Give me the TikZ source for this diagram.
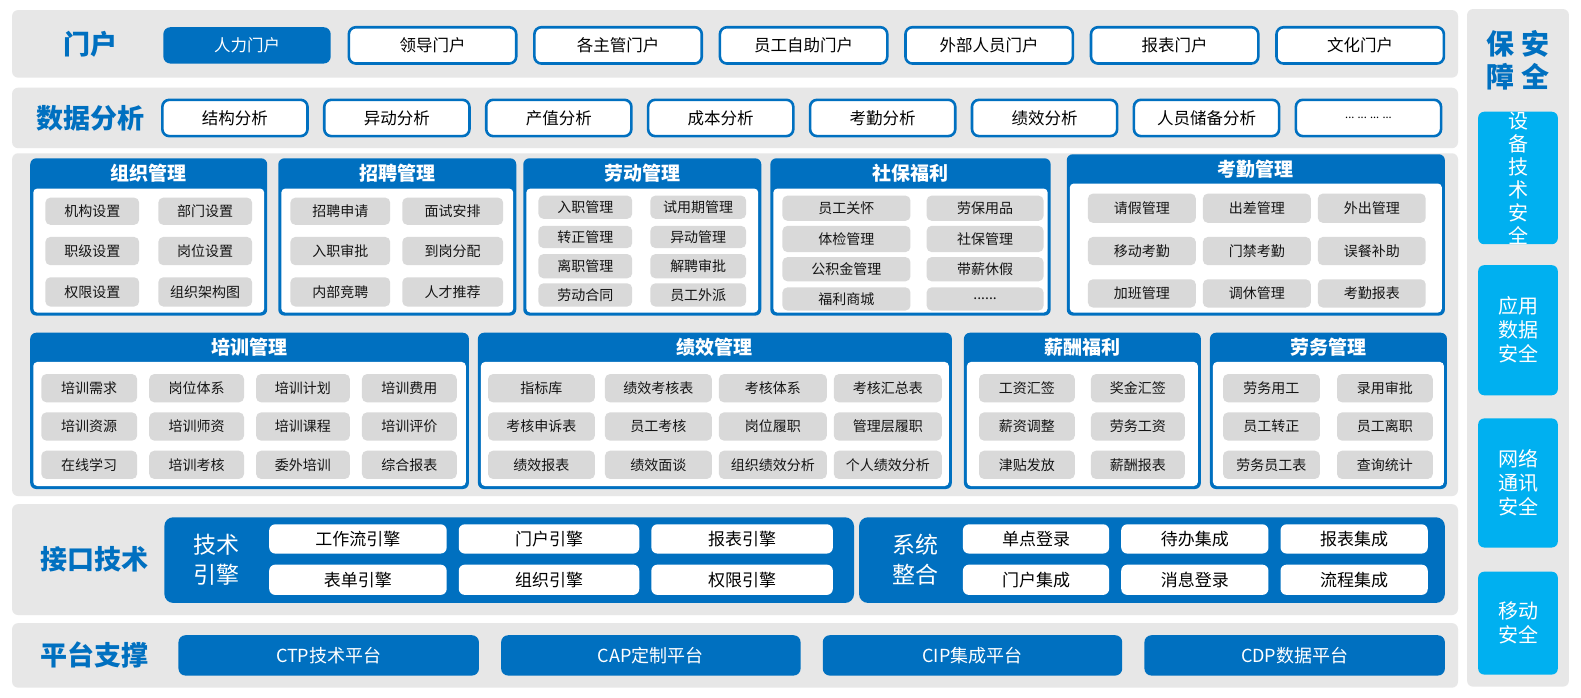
\documentclass[tikz,border=0pt]{standalone}
\usepackage{fontspec}
\setmainfont{Noto Sans CJK SC}
\definecolor{mblue}{RGB}{0,112,192}
\definecolor{pgray}{RGB}{231,231,231}
\definecolor{igray}{RGB}{217,217,217}
\definecolor{mcyan}{RGB}{0,176,240}
\definecolor{itxt}{RGB}{20,20,20}
\newcommand{\mydots}{......}
\newcommand{\bx}[7]{%
  \node[#1, minimum width={((#5)-(#3))*1.0083}, minimum height={((#6)-(#4))*1.0083}, inner sep=0pt, outer sep=0pt]
    (#2) at ({((#3)+(#5))/2},{((#4)+(#6))/2}) {#7};}
\newcommand{\modbox}[7]{%
  \bx{modout}{#1}{#2}{#3}{#4}{#5}{}
  \bx{modin}{#1-b}{#2+3}{#6}{#4-3}{#5-3}{}
  \bx{modhd}{#1-h}{#2}{#3}{#4}{#6}{#7}}
\newcommand{\itemgrid}[7]{%
  \foreach \t [count=\k from 0] in {#7} {
    \pgfmathtruncatemacro\cc{mod(\k,#2)}
    \pgfmathtruncatemacro\rr{div(\k,#2)}
    \pgfmathsetmacro\xa{{#3}[\cc]}
    \pgfmathsetmacro\xb{{#4}[\cc]}
    \pgfmathsetmacro\ya{{#5}[\rr]}
    \pgfmathsetmacro\yb{{#6}[\rr]}
    \bx{itembox}{#1-\k}{\xa}{\ya}{\xb}{\yb}{\t}
  }}
\tikzset{
  panel/.style={fill=pgray, rounded corners=6pt},
  rowlbl/.style={text=mblue, font=\fontsize{27}{30}\selectfont\bfseries},
  portal/.style={draw=mblue, line width=2.6pt, fill=white, rounded corners=7pt, text=black, font=\fontsize{16.5}{18}\selectfont},
  portalsel/.style={fill=mblue, rounded corners=7pt, text=white, font=\fontsize{16.5}{18}\selectfont},
  ana/.style={draw=mblue, line width=2.6pt, fill=white, rounded corners=7pt, text=black, font=\fontsize{16.5}{18}\selectfont},
  modout/.style={fill=mblue, rounded corners=6pt},
  modin/.style={fill=white, rounded corners=4pt},
  modhd/.style={text=white, font=\fontsize{19}{21}\selectfont\bfseries},
  itembox/.style={fill=igray, rounded corners=5pt, text=itxt, font=\fontsize{14}{16}\selectfont},
  grp/.style={fill=mblue, rounded corners=9pt},
  grplbl/.style={text=white, align=center, font=\fontsize{23}{30}\selectfont},
  eng/.style={fill=white, rounded corners=6pt, text=black, font=\fontsize{17}{19}\selectfont},
  plat/.style={fill=mblue, rounded corners=7pt, text=white, font=\fontsize{18}{20}\selectfont},
  sec/.style={fill=mcyan, rounded corners=6pt, text=white, align=center, font=\fontsize{20}{24}\selectfont},
}
\begin{document}
\begin{tikzpicture}[x=1.0083pt,y=-1.0083pt]
\useasboundingbox (0,0) rectangle (1568,692.25);
\fill[white] (0,0) rectangle (1568,692.25);
% ---- grey panels
\bx{panel}{p1}{12}{10}{1446}{77}{}
\bx{panel}{p2}{12}{87}{1446}{147}{}
\bx{panel}{p3}{12}{152}{1446}{492}{}
\bx{panel}{p4}{12}{500}{1446}{610}{}
\bx{panel}{p5}{12}{618}{1446}{682}{}
\bx{panel}{p6}{1455}{9}{1556}{681}{}
% ---- row labels
\node[rowlbl] (l1) at (90,44) {门户};
\node[rowlbl] (l2) at (90,117) {数据分析};
\node[rowlbl] (l4) at (94,555) {接口技术};
\node[rowlbl] (l5) at (94,650) {平台支撑};
% ---- portal row
\bx{portalsel}{q0}{162}{27}{328}{63}{人力门户}
\foreach \t [count=\i from 1] in {领导门户,各主管门户,员工自助门户,外部人员门户,报表门户,文化门户}{
  \pgfmathsetmacro\xa{162+184*\i}
  \bx{portal}{q\i}{\xa}{27}{\xa+166}{63}{\t}
}
% ---- analysis row
\foreach \t [count=\i from 0] in {结构分析,异动分析,产值分析,成本分析,考勤分析,绩效分析,人员储备分析}{
  \pgfmathsetmacro\xa{161+160.6*\i}
  \bx{ana}{a\i}{\xa}{99}{\xa+144}{135}{\t}
}
\bx{ana}{a7}{1285.2}{99}{1429.2}{135}{\fontsize{11}{12}\selectfont ... ... ... ...}
% ---- top modules
\modbox{m1}{30}{157}{265}{313}{187}{组织管理}
\itemgrid{m1i}{2}{45,157}{138,250}{196,235,275}{223,263,304}{机构设置,部门设置,职级设置,岗位设置,权限设置,组织架构图}
\modbox{m2}{276}{157}{512}{313}{187}{招聘管理}
\itemgrid{m2i}{2}{288,399}{387,499}{196,235,275}{223,263,304}{招聘申请,面试安排,入职审批,到岗分配,内部竞聘,人才推荐}
\modbox{m3}{519}{157}{755}{313}{187}{劳动管理}
\itemgrid{m3i}{2}{534,645}{627,740}{194,224,252,281}{217,246,276,304}{入职管理,试用期管理,转正管理,异动管理,离职管理,解聘审批,劳动合同,员工外派}
\modbox{m4}{764}{157}{1042}{313}{187}{社保福利}
\itemgrid{m4i}{2}{776,919}{903,1035}{194,224,255,285}{219,250,279,308}{员工关怀,劳保用品,体检管理,社保管理,公积金管理,带薪休假,福利商城,\mydots}
\modbox{m5}{1058}{153}{1433}{313}{182}{考勤管理}
\itemgrid{m5i}{3}{1079,1193,1307}{1186,1300,1414}{192,235,277}{221,263,305}{请假管理,出差管理,外出管理,移动考勤,门禁考勤,误餐补助,加班管理,调休管理,考勤报表}
% ---- bottom modules
\modbox{b1}{30}{330}{465}{485}{359}{培训管理}
\itemgrid{b1i}{4}{41,148,254,359}{136,242,347,453}{371,409,447}{399,437,475}{培训需求,岗位体系,培训计划,培训费用,培训资源,培训师资,培训课程,培训评价,在线学习,培训考核,委外培训,综合报表}
\modbox{b2}{474}{330}{944}{485}{359}{绩效管理}
\itemgrid{b2i}{4}{484,600,713,827}{590,706,820,934}{371,409,447}{399,437,475}{指标库,绩效考核表,考核体系,考核汇总表,考核申诉表,员工考核,岗位履职,管理层履职,绩效报表,绩效面谈,组织绩效分析,个人绩效分析}
\modbox{b3}{956}{330}{1191}{485}{359}{薪酬福利}
\itemgrid{b3i}{2}{971,1082}{1066,1175}{371,409,447}{399,437,475}{工资汇签,奖金汇签,薪资调整,劳务工资,津贴发放,薪酬报表}
\modbox{b4}{1200}{330}{1435}{485}{359}{劳务管理}
\itemgrid{b4i}{2}{1213,1326}{1309,1421}{371,409,447}{399,437,475}{劳务用工,录用审批,员工转正,员工离职,劳务员工表,查询统计}
% ---- interface row
\bx{grp}{g1}{163}{513}{847}{598}{}
\node[grplbl] (g1l) at (215,555) {技术\\引擎};
\bx{eng}{e1}{267}{520}{443}{549}{工作流引擎}
\bx{eng}{e2}{455}{520}{634}{549}{门户引擎}
\bx{eng}{e3}{646}{520}{826}{549}{报表引擎}
\bx{eng}{e4}{267}{560}{443}{590}{表单引擎}
\bx{eng}{e5}{455}{560}{634}{590}{组织引擎}
\bx{eng}{e6}{646}{560}{826}{590}{权限引擎}
\bx{grp}{g2}{852}{513}{1433}{598}{}
\node[grplbl] (g2l) at (908,555) {系统\\整合};
\bx{eng}{s1}{955}{520}{1100}{549}{单点登录}
\bx{eng}{s2}{1112}{520}{1258}{549}{待办集成}
\bx{eng}{s3}{1270}{520}{1416}{549}{报表集成}
\bx{eng}{s4}{955}{560}{1100}{590}{门户集成}
\bx{eng}{s5}{1112}{560}{1258}{590}{消息登录}
\bx{eng}{s6}{1270}{560}{1416}{590}{流程集成}
% ---- platform row
\bx{plat}{c1}{177}{630}{475}{670}{CTP技术平台}
\bx{plat}{c2}{497}{630}{794}{670}{CAP定制平台}
\bx{plat}{c3}{816}{630}{1113}{670}{CIP集成平台}
\bx{plat}{c4}{1135}{630}{1433}{670}{CDP数据平台}
% ---- right column
\node[text=mblue, align=center, font=\fontsize{28}{33}\selectfont\bfseries] (rt) at (1505.5,60) {保\hspace{7pt}安\\障\hspace{7pt}全};
\bx{sec, font=\fontsize{20}{23}\selectfont}{r1}{1466}{112}{1545}{241}{设\\备\\技\\术\\安\\全}
\bx{sec}{r2}{1466}{263}{1545}{392}{应用\\数据\\安全}
\bx{sec}{r3}{1466}{415}{1545}{543}{网络\\通讯\\安全}
\bx{sec}{r4}{1466}{567}{1545}{669}{移动\\安全}
\end{tikzpicture}
\end{document}
